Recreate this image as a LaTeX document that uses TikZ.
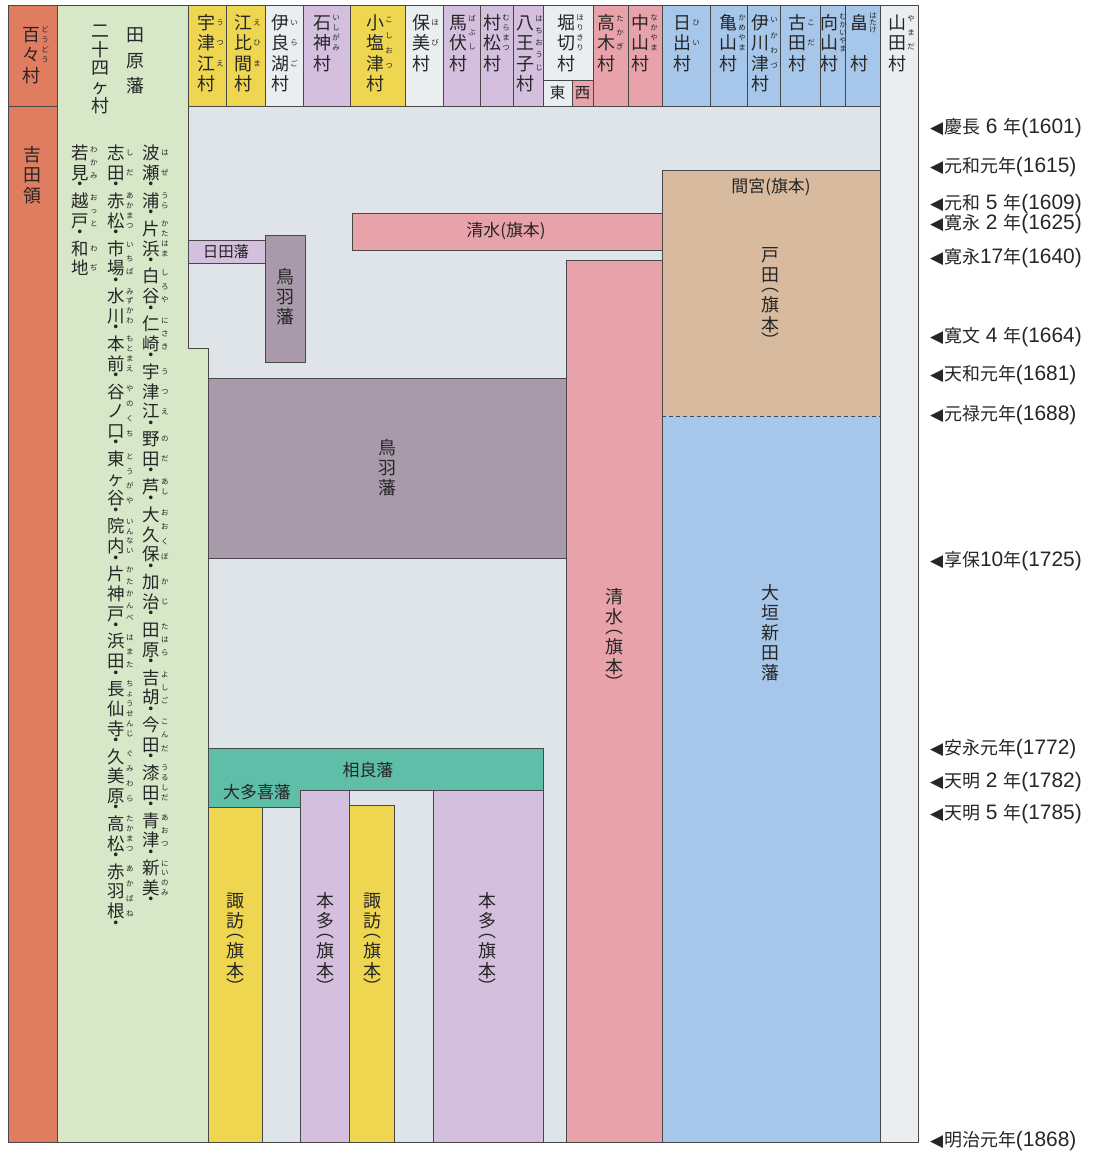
\documentclass[tikz,border=0pt]{standalone}
\usepackage{fontspec}
\setmainfont{Noto Sans CJK JP}
\newfontfamily\latf{Liberation Sans}
\newfontfamily\dvs{DejaVu Sans}
\definecolor{cRed}{RGB}{224,124,96}
\definecolor{cGreen}{RGB}{214,232,200}
\definecolor{cYel}{RGB}{238,214,80}
\definecolor{cGray}{RGB}{222,228,231}
\definecolor{cWhite}{RGB}{234,238,241}
\definecolor{cPur}{RGB}{212,192,222}
\definecolor{cPink}{RGB}{232,162,170}
\definecolor{cBlue}{RGB}{166,198,234}
\definecolor{cTan}{RGB}{216,186,158}
\definecolor{cMauve}{RGB}{168,154,170}
\definecolor{cTeal}{RGB}{94,190,168}
\definecolor{cLine}{RGB}{72,72,72}
\definecolor{cText}{RGB}{38,38,38}
\makeatletter
\newdimen\vtsk \vtsk=20pt
\newdimen\vtdh \vtdh=8pt
\newdimen\vtph \vtph=10pt
\newdimen\vt@c
\newcount\vt@n
\newcommand\setvt[3]{\vtsk=#1\relax\vtdh=#2\relax\vtph=#3\relax}
\def\vt@dotc{・}\def\vt@lp{︵}\def\vt@rp{︶}
\newcommand\vtfull[1]{\hbox to 1em{\hss\smash{#1}\hss\vrule height \dimexpr.5\vtsk+.38em\relax depth \dimexpr.5\vtsk-.38em\relax width 0pt}}
\newcommand\vthalfx[2]{\setbox0\hbox{#2}\hbox to 1em{\hss\lower\dimexpr(\ht0-\dp0)/2-#1/2\relax\hbox{\smash{#2}}\hss\vrule height #1 depth 0pt width 0pt}}
\def\vt@one{\ifx\vch\vt@dotc\vthalfx\vtdh\vch\else\ifx\vch\vt@lp\vthalfx\vtph\vch\else\ifx\vch\vt@rp\vthalfx\vtph\vch\else\vtfull\vch\fi\fi\fi}
\newcommand\vts[1]{\@tfor\vch:=#1\do{\vt@one}}
\newcommand\vcol[1]{\vbox{\offinterlineskip#1\kern0pt}}
\newcommand\vtext[1]{\vcol{\vts{#1}}}
\newcommand\rubyf{\fontsize{7.5pt}{7.5pt}\selectfont}
\newcommand\rb[2]{%
  \setbox2\vbox{\offinterlineskip\vts{#1}\kern0pt}%
  \vt@n=0 \@tfor\vch:=#2\do{\advance\vt@n 1 }%
  \vt@c=\dimexpr\ht2/\vt@n\relax
  \setbox4\vbox{\offinterlineskip\rubyf\@tfor\vch:=#2\do{\hbox to 1em{\hss\smash{\vch}\hss\vrule height \dimexpr\vt@c/2+.38em\relax depth \dimexpr\vt@c/2-.38em\relax width 0pt}}\kern0pt}%
  \hbox{\box2\rlap{\kern1.5pt\box4}}}
\newcommand\vd{\vts{・}}
\makeatother
\newcommand\tri{{\dvs\fontsize{17pt}{17pt}\selectfont ◀}\kern1pt}
\newcommand\lat[1]{{\latf\fontsize{21pt}{20pt}\selectfont #1}}
\newcommand\hdrfont{\fontsize{18pt}{20pt}\selectfont\setvt{20.5pt}{8pt}{10pt}}
\newcommand\vlabfont{\fontsize{18pt}{20pt}\selectfont\setvt{20pt}{8pt}{10pt}}
\newcommand\lstfont{\fontsize{17.5pt}{20pt}\selectfont\setvt{19.8pt}{8pt}{10pt}}
\tikzset{
  cell/.style={draw=cLine, line width=1bp},
  hdr/.style={inner sep=0pt, anchor=north, text=cText, font=\hdrfont},
  vlab/.style={inner sep=0pt, anchor=north, text=cText, font=\vlabfont},
  lst/.style={inner sep=0pt, anchor=north, text=cText, font=\lstfont},
  hlab/.style={inner sep=0pt, text=cText, font=\fontsize{17pt}{20pt}\selectfont},
  slab/.style={inner sep=0pt, text=cText, font=\fontsize{15.5pt}{16pt}\selectfont},
  date/.style={inner sep=0pt, anchor=base west, text=cText, font=\fontsize{18pt}{20pt}\selectfont},
}
\begin{document}
\begin{tikzpicture}[x=1bp, y=-1bp]
\useasboundingbox (0,0) rectangle (1097,1153);
\fill[white] (0,0) rectangle (1097,1153);
% body background
\fill[cGray] (188,106) rectangle (880,1142);
% Yamada column
\filldraw[cell, fill=cWhite] (880,5) rectangle (918,1142);
% Dodo / Yoshida column
\filldraw[cell, fill=cRed] (8,5) rectangle (57,1142);
\draw[cell] (8,106) -- (57,106);
% Tahara column
\filldraw[cell, fill=cGreen] (57,5) -- (188,5) -- (188,348) -- (208,348) -- (208,1142) -- (57,1142) -- cycle;
% header cells
\foreach \a/\b/\c in {188/226/cYel, 226/265/cYel, 265/303/cWhite, 303/350/cPur, 350/405/cYel, 405/443/cWhite, 443/480/cPur, 480/513/cPur, 513/543/cPur, 543/593/cWhite, 593/628/cPink, 628/662/cPink, 662/710/cBlue, 710/747/cBlue, 747/780/cBlue, 780/820/cBlue, 820/845/cBlue, 845/880/cBlue}
  \filldraw[cell, fill=\c] (\a,5) rectangle (\b,106);
\filldraw[cell, fill=cWhite] (543,80) rectangle (572,106);
\filldraw[cell, fill=cPink] (572,80) rectangle (593,106);
% body blocks
\filldraw[cell, fill=cTan] (662,170) rectangle (880,203);
\fill[cTan] (662,203) rectangle (880,416);
\fill[cBlue] (662,416) rectangle (880,1142);
\draw[cell] (662,203) -- (662,1142);
\draw[cell, dash pattern=on 4bp off 3bp] (662,416) -- (880,416);
\filldraw[cell, fill=cPink] (352,213) rectangle (662,250);
\filldraw[cell, fill=cPink] (566,260) rectangle (662,1142);
\filldraw[cell, fill=cPur] (188,240) rectangle (265,263);
\filldraw[cell, fill=cMauve] (265,235) rectangle (305,362);
\filldraw[cell, fill=cMauve] (208,378) rectangle (566,558);
\filldraw[cell, fill=cTeal] (208,748) -- (543,748) -- (543,790) -- (300,790) -- (300,807) -- (208,807) -- cycle;
\filldraw[cell, fill=cYel] (208,807) rectangle (262,1142);
\filldraw[cell, fill=cPur] (300,790) rectangle (349,1142);
\filldraw[cell, fill=cYel] (349,805) rectangle (394,1142);
\filldraw[cell, fill=cPur] (433,790) rectangle (543,1142);
\draw[cell] (188,106) -- (880,106);
\draw[cell] (208,1142) -- (880,1142);
\draw[cell] (880,5) -- (880,1142);
% header labels
\node[hdr] (dodo) at (31,24) {\vcol{\rb{百々}{どうどう}\vts{村}}};
\node[hdr] (yoshida) at (32,144) {\vtext{吉田領}};
\node[hdr, font=\fontsize{18pt}{20pt}\selectfont\setvt{25.5pt}{8pt}{10pt}] (tahara) at (135,22) {\vtext{田原藩}};
\node[hdr, font=\fontsize{18pt}{20pt}\selectfont\setvt{18.8pt}{8pt}{10pt}] (nijushi) at (100,21) {\vtext{二十四ヶ村}};
\node[hdr] (utsue) at (206,12) {\vcol{\rb{宇津江}{うつえ}\vts{村}}};
\node[hdr] (ebima) at (243,12) {\vcol{\rb{江比間}{えひま}\vts{村}}};
\node[hdr] (irago) at (280,12) {\vcol{\rb{伊良湖}{いらご}\vts{村}}};
\node[hdr] (ishigami) at (322,12) {\vcol{\rb{石神}{いしがみ}\vts{村}}};
\node[hdr] (koshiozu) at (375,12) {\vcol{\rb{小塩津}{こしおつ}\vts{村}}};
\node[hdr] (hobi) at (421,12) {\vcol{\rb{保美}{ほび}\vts{村}}};
\node[hdr] (babushi) at (458,12) {\vcol{\rb{馬伏}{ばぶし}\vts{村}}};
\node[hdr] (muramatsu) at (492,12) {\vcol{\rb{村松}{むらまつ}\vts{村}}};
\node[hdr] (hachioji) at (525,12) {\vcol{\rb{八王子}{はちおうじ}\vts{村}}};
\node[hdr] (horikiri) at (566,12) {\vcol{\rb{堀切}{ほりきり}\vts{村}}};
\node[hdr] (takagi) at (606,12) {\vcol{\rb{高木}{たかぎ}\vts{村}}};
\node[hdr] (nakayama) at (640,12) {\vcol{\rb{中山}{なかやま}\vts{村}}};
\node[hdr] (hii) at (682,12) {\vcol{\rb{日出}{ひい}\vts{村}}};
\node[hdr] (kameyama) at (728,12) {\vcol{\rb{亀山}{かめやま}\vts{村}}};
\node[hdr] (ikawazu) at (760,12) {\vcol{\rb{伊川津}{いかわづ}\vts{村}}};
\node[hdr] (koda) at (797,12) {\vcol{\rb{古田}{こだ}\vts{村}}};
\node[hdr] (mukaiyama) at (829,12) {\vcol{\rb{向山}{むかいやま}\vts{村}}};
\node[hdr] (hatake) at (859,12) {\vcol{\rb{畠}{はたけ}\vts{　村}}};
\node[hdr] (yamada) at (897,12) {\vcol{\rb{山田}{やまだ}\vts{村}}};
\node[slab] (higashi) at (557.5,93) {東};
\node[slab] (nishi) at (582.5,93) {西};
% village list
\node[lst] (list1) at (151,143) {\vcol{\rb{波瀬}{はぜ}\vd\rb{浦}{うら}\vd\rb{片浜}{かたはま}\vd\rb{白谷}{しろや}\vd\rb{仁崎}{にさき}\vd\rb{宇津江}{うつえ}\vd\rb{野田}{のだ}\vd\rb{芦}{あし}\vd\rb{大久保}{おおくぼ}\vd\rb{加治}{かじ}\vd\rb{田原}{たはら}\vd\rb{吉胡}{よしご}\vd\rb{今田}{こんだ}\vd\rb{漆田}{うるしだ}\vd\rb{青津}{あおつ}\vd\rb{新美}{にいのみ}\vd}};
\node[lst] (list2) at (116,143) {\vcol{\rb{志田}{しだ}\vd\rb{赤松}{あかまつ}\vd\rb{市場}{いちば}\vd\rb{水川}{みずかわ}\vd\rb{本前}{もとまえ}\vd\rb{谷ノ口}{やのくち}\vd\rb{東ヶ谷}{とうがや}\vd\rb{院内}{いんない}\vd\rb{片神戸}{かたかんべ}\vd\rb{浜田}{はまた}\vd\rb{長仙寺}{ちょうせんじ}\vd\rb{久美原}{ぐみわら}\vd\rb{高松}{たかまつ}\vd\rb{赤羽根}{あかばね}\vd}};
\node[lst] (list3) at (80,143) {\vcol{\rb{若見}{わかみ}\vd\rb{越戸}{おっと}\vd\rb{和地}{わぢ}}};
% body labels
\node[hlab] (mamiya) at (771,187) {間宮(旗本)};
\node[hlab] (shimizuH) at (506,231) {清水(旗本)};
\node[slab] (hida) at (226,252) {日田藩};
\node[vlab] (tobaS) at (285,267) {\vtext{鳥羽藩}};
\node[vlab] (tobaL) at (387,438) {\vtext{鳥羽藩}};
\node[vlab] (toda) at (770,245) {\vtext{戸田︵旗本︶}};
\node[vlab] (shimizuV) at (614,587) {\vtext{清水︵旗本︶}};
\node[vlab] (ogaki) at (770,583) {\vtext{大垣新田藩}};
\node[hlab] (sagara) at (368,770) {相良藩};
\node[hlab] (otaki) at (257,792) {大多喜藩};
\node[vlab] (suwa1) at (235,891) {\vtext{諏訪︵旗本︶}};
\node[vlab] (honda1) at (325,891) {\vtext{本多︵旗本︶}};
\node[vlab] (suwa2) at (372,891) {\vtext{諏訪︵旗本︶}};
\node[vlab] (honda2) at (487,891) {\vtext{本多︵旗本︶}};
% dates
\node[date] (d1601) at (930,133) {\tri 慶長\lat{\ 6\ }年\lat{(1601)}};
\node[date] (d1615) at (930,172) {\tri 元和元年\lat{(1615)}};
\node[date] (d1609) at (930,209) {\tri 元和\lat{\ 5\ }年\lat{(1609)}};
\node[date] (d1625) at (930,229) {\tri 寛永\lat{\ 2\ }年\lat{(1625)}};
\node[date] (d1640) at (930,263) {\tri 寛永\lat{17}年\lat{(1640)}};
\node[date] (d1664) at (930,342) {\tri 寛文\lat{\ 4\ }年\lat{(1664)}};
\node[date] (d1681) at (930,380) {\tri 天和元年\lat{(1681)}};
\node[date] (d1688) at (930,420) {\tri 元禄元年\lat{(1688)}};
\node[date] (d1725) at (930,566) {\tri 享保\lat{10}年\lat{(1725)}};
\node[date] (d1772) at (930,754) {\tri 安永元年\lat{(1772)}};
\node[date] (d1782) at (930,787) {\tri 天明\lat{\ 2\ }年\lat{(1782)}};
\node[date] (d1785) at (930,819) {\tri 天明\lat{\ 5\ }年\lat{(1785)}};
\node[date] (d1868) at (930,1146) {\tri 明治元年\lat{(1868)}};
\end{tikzpicture}
\end{document}
